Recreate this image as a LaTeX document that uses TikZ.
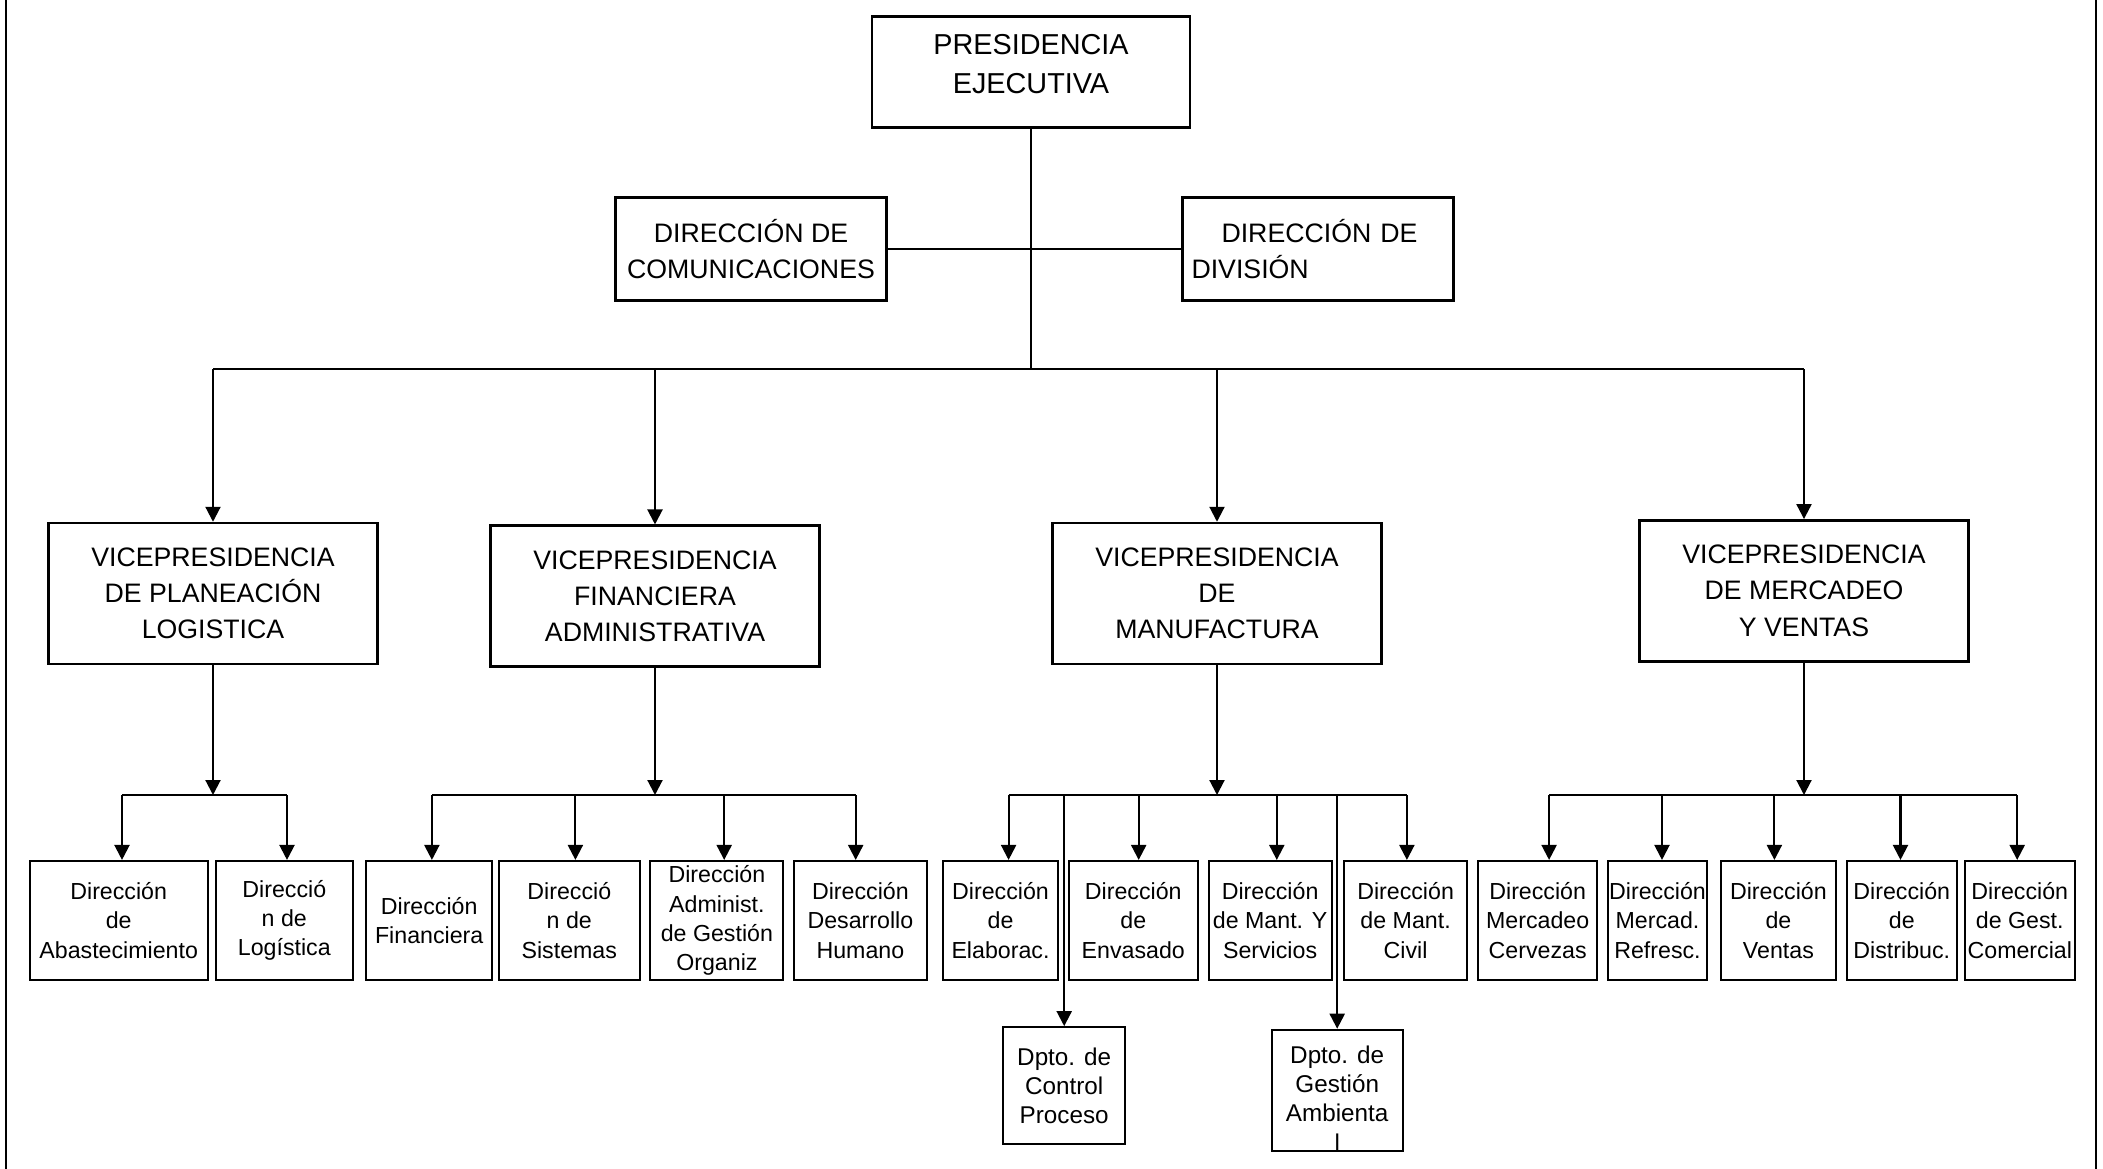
\documentclass[tikz,border=0pt]{standalone}
\usepackage{fontspec}
\setmainfont{Liberation Sans}
\usetikzlibrary{arrows.meta,positioning}

\begin{document}
\begin{tikzpicture}[
  box/.style={draw,line width=0.7pt,align=center,inner sep=0pt,font=\fontsize{7.6}{10.3}\selectfont},
  vpbox/.style={box,minimum width=3.29cm,minimum height=1.41cm},
  unit/.style={draw,line width=0.6pt,align=center,inner sep=0pt,minimum height=1.19cm,font=\fontsize{6.6}{8.3}\selectfont},
  dpto/.style={unit,font=\fontsize{6.9}{8.3}\selectfont},
  link/.style={line width=0.6pt},
  arr/.style={link,-{Triangle[length=1.5mm,width=1.5mm]}}]
  \useasboundingbox (0,0) rectangle (21.03,-11.69);
  % marco
  \draw[line width=0.6pt] (0.06,0) -- (0.06,-11.69);
  \draw[line width=0.6pt] (20.96,0) -- (20.96,-11.69);

  % nivel superior
  \node[box,minimum width=3.18cm,minimum height=1.11cm,font=\fontsize{8.2}{11}\selectfont] (pres) at (10.31,-0.72) {PRESIDENCIA\\EJECUTIVA\rule[-4.6pt]{0pt}{0pt}};
  \node[box,minimum width=2.71cm,minimum height=1.03cm] (com) at (7.51,-2.49) {DIRECCIÓN DE\\COMUNICACIONES};
  \node[box,minimum width=2.71cm,minimum height=1.03cm,text width=2.53cm,align=left] (div) at (13.18,-2.49) {\hspace*{3mm}DIRECCIÓN DE\\DIVISIÓN};
  \coordinate (bus) at (10.31,-3.69);

  % vicepresidencias
  \node[vpbox] (vp1) at (2.13,-5.935) {VICEPRESIDENCIA\\DE PLANEACIÓN\\LOGISTICA};
  \node[vpbox] (vp2) at (6.55,-5.962) {VICEPRESIDENCIA\\FINANCIERA\\ADMINISTRATIVA};
  \node[vpbox] (vp3) at (12.17,-5.935) {VICEPRESIDENCIA\\DE\\MANUFACTURA};
  \node[vpbox] (vp4) at (18.04,-5.908) {VICEPRESIDENCIA\\DE MERCADEO\\Y VENTAS};

  \draw[line width=0.4pt] (pres) -- (bus);
  \draw[link] (com) -- (div);
  \draw[link] (vp1 |- bus) -- (vp4 |- bus);
  \foreach \v in {vp1,vp2,vp3,vp4}
    \draw[arr] (\v |- bus) -- (\v);

  % direcciones
  \node[unit,minimum width=1.78cm] (d11) at (1.187,-9.205) {Dirección\\de\\Abastecimiento};
  \node[unit,minimum width=1.37cm] (d12) at (2.843,-9.205) {Direcció\\n de\\Logística};
  \node[unit,minimum width=1.26cm] (d21) at (4.292,-9.205) {Dirección\\Financiera};
  \node[unit,minimum width=1.41cm] (d22) at (5.693,-9.205) {Direcció\\n de\\Sistemas};
  \node[unit,minimum width=1.33cm] (d23) at (7.169,-9.205) {Dirección\\Administ.\\de Gestión\\Organiz};
  \node[unit,minimum width=1.33cm] (d24) at (8.604,-9.205) {Dirección\\Desarrollo\\Humano};
  \node[unit,minimum width=1.15cm] (d31) at (10.005,-9.205) {Dirección\\de\\Elaborac.};
  \node[unit,minimum width=1.29cm] (d32) at (11.333,-9.205) {Dirección\\de\\Envasado};
  \node[unit,minimum width=1.23cm] (d33) at (12.701,-9.205) {Dirección\\de Mant. Y\\Servicios};
  \node[unit,minimum width=1.23cm] (d34) at (14.056,-9.205) {Dirección\\de Mant.\\Civil};
  \node[unit,minimum width=1.19cm] (d41) at (15.377,-9.205) {Dirección\\Mercadeo\\Cervezas};
  \node[unit,minimum width=0.99cm] (d42) at (16.575,-9.205) {Dirección\\Mercad.\\Refresc.};
  \node[unit,minimum width=1.15cm] (d43) at (17.784,-9.205) {Dirección\\de\\Ventas};
  \node[unit,minimum width=1.10cm] (d44) at (19.018,-9.205) {Dirección\\de\\Distribuc.};
  \node[unit,minimum width=1.10cm] (d45) at (20.198,-9.205) {Dirección\\de Gest.\\Comercial};

  \node[dpto,minimum width=1.22cm,minimum height=1.17cm] (dpA) at (10.642,-10.857) {Dpto. de\\Control\\Proceso};
  \node[dpto,minimum width=1.31cm,minimum height=1.21cm] (dpB) at (13.372,-10.904) {\rule{0pt}{9.6pt}Dpto. de\\Gestión\\Ambienta\\l};

  % barras de cada vicepresidencia
  \coordinate (s1) at (1.22,-7.95);
  \coordinate (e1) at (2.87,-7.95);
  \coordinate (s2) at (4.319,-7.95);
  \coordinate (e2) at (8.557,-7.95);
  \coordinate (s3) at (10.086,-7.95);
  \coordinate (e3) at (14.069,-7.95);
  \coordinate (s4) at (15.491,-7.95);
  \coordinate (e4) at (20.172,-7.95);
  \foreach \i in {1,2,3,4} {
    \draw[link] (s\i) -- (e\i);
    \draw[arr] (vp\i) -- (vp\i |- s\i);
  }
  \foreach \n/\x in {d11/1.22,d12/2.87,d21/4.319,d22/5.754,d23/7.242,d24/8.557,
                     d31/10.086,d32/11.387,d33/12.768,d34/14.069,
                     d41/15.491,d42/16.62,d43/17.744,d44/19.005,d45/20.172} {
    \coordinate (t\n) at (\x,-7.95);
    \draw[arr] (t\n) -- (\n.north -| t\n);
  }
  \draw[arr] (dpA |- s3) -- (dpA);
  \draw[arr] (dpB |- s3) -- (dpB);
\end{tikzpicture}
\end{document}
